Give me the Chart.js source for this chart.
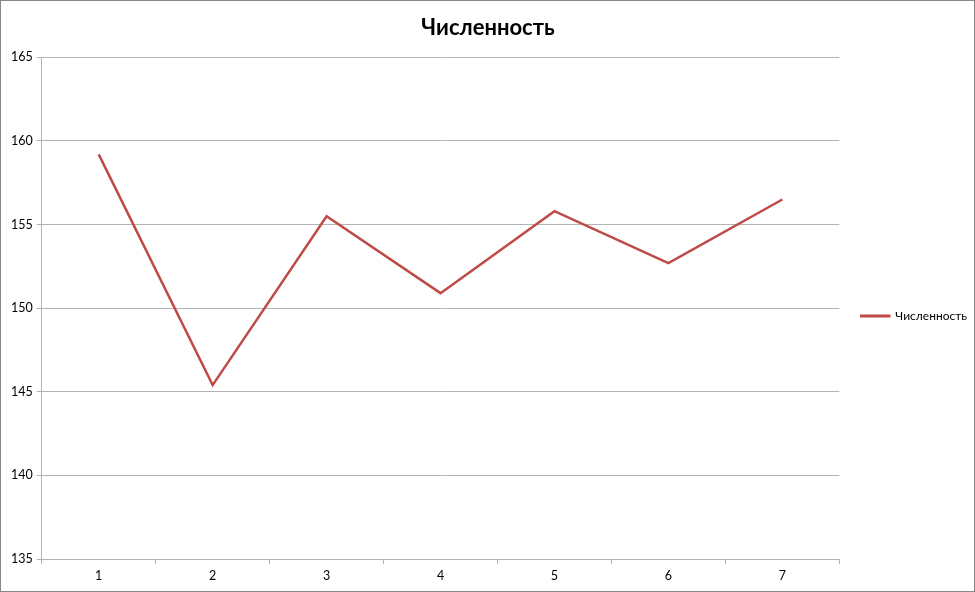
<!DOCTYPE html>
<html>
<head>
<meta charset="utf-8">
<script src="https://cdn.jsdelivr.net/npm/chart.js@4/dist/chart.umd.min.js"></script>
<style>
  html, body { margin: 0; padding: 0; background: #fff; }
  #wrap {
    width: 975px; height: 592px; box-sizing: border-box;
    border: 1px solid #868686; position: relative; background: #fff;
  }
</style>
</head>
<body>
<div id="wrap"><canvas id="chart"></canvas></div>
<script>
const labels = ["1", "2", "3", "4", "5", "6", "7"];
const values = [159.2, 145.4, 155.5, 150.9, 155.8, 152.7, 156.5];
const seriesName = "Численность";
const yMin = 135;
const yMax = 165;
const yStep = 5;

const lineColor = "#be4b48";
const gridColor = "#b3b3b3";
const fontFamily = "Lato, 'Noto Sans', sans-serif";

// nudge the legend to where Excel puts it
const legendShift = {
  id: "legendShift",
  afterLayout(chart) {
    const lg = chart.legend;
    lg.top += 22;
    lg.bottom += 22;
    lg.left += 8;
    lg.right += 8;
  },
};

new Chart(document.getElementById("chart"), {
  type: "line",
  data: {
    labels: labels,
    datasets: [
      {
        label: seriesName,
        data: values,
        borderColor: lineColor,
        backgroundColor: lineColor,
        borderWidth: 2.5,
        pointRadius: 0,
        tension: 0,
      },
    ],
  },
  options: {
    responsive: true,
    maintainAspectRatio: false,
    animation: false,
    layout: { padding: { left: 6, right: 5, top: 0, bottom: 4 } },
    plugins: {
      title: {
        display: true,
        text: "Численность",
        color: "#000",
        font: { family: fontFamily, size: 22, weight: "bold" },
        padding: { top: 14, bottom: 16 },
      },
      legend: {
        position: "right",
        labels: {
          color: "#000",
          boxWidth: 28,
          boxHeight: 0.5,
          padding: 14,
          font: { family: fontFamily, size: 12 },
        },
      },
      tooltip: { enabled: false },
    },
    scales: {
      x: {
        offset: true,
        grid: {
          offset: true,
          drawOnChartArea: false,
          color: gridColor,
          tickLength: 5,
        },
        border: { color: gridColor },
        ticks: {
          color: "#000",
          padding: 4,
          font: { family: fontFamily, size: 12.5 },
        },
      },
      y: {
        min: yMin,
        max: yMax,
        grid: { color: gridColor, tickLength: 5 },
        border: { color: gridColor },
        ticks: {
          stepSize: yStep,
          color: "#000",
          padding: 4,
          font: { family: fontFamily, size: 12.5 },
        },
      },
    },
  },
  plugins: [legendShift],
});
</script>
</body>
</html>
